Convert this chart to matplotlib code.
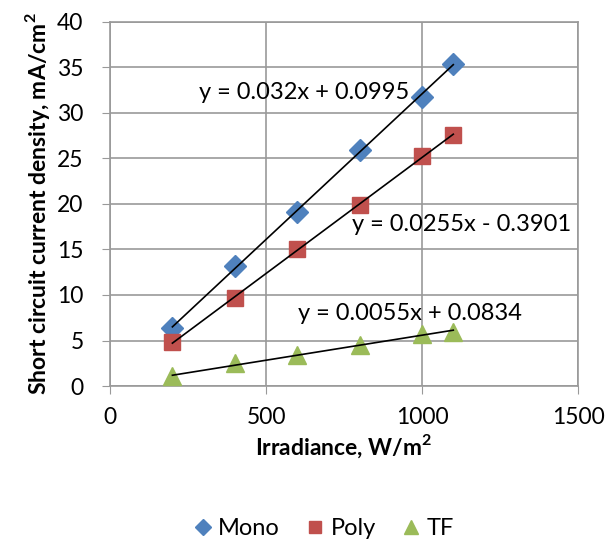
import numpy as np
import matplotlib
matplotlib.use("Agg")
import matplotlib.pyplot as plt

plt.rcParams['font.family'] = ['Lato', 'DejaVu Sans']

# ---- data
irradiance = [200, 400, 600, 800, 1000, 1100]
mono = [6.4, 13.2, 19.1, 25.9, 31.8, 35.4]
poly = [4.8, 9.7, 15.0, 19.9, 25.3, 27.6]
tf = [1.1, 2.5, 3.4, 4.5, 5.7, 5.9]

# trendline coefficients as printed
fit_mono = (0.032, 0.0995)
fit_poly = (0.0255, -0.3901)
fit_tf = (0.0055, 0.0834)
eq_mono = "y = 0.032x + 0.0995"
eq_poly = "y = 0.0255x - 0.3901"
eq_tf = "y = 0.0055x + 0.0834"

x_ticks = [0, 500, 1000, 1500]
y_ticks = [0, 5, 10, 15, 20, 25, 30, 35, 40]

# ---- figure
fig = plt.figure(figsize=(6.06, 5.47), dpi=100)
ax = fig.add_axes([0.1815, 0.2943, 0.7725, 0.6657])

ax.plot(irradiance, mono, 'D', color='#4F81BD', ms=11, label='Mono', zorder=3)
ax.plot(irradiance, poly, 's', color='#C0504D', ms=12, label='Poly', zorder=3)
ax.plot(irradiance, tf, '^', color='#9BBB59', ms=13, label='TF', zorder=3)

xx = np.array([irradiance[0], irradiance[-1]])
for m, b in (fit_mono, fit_poly, fit_tf):
    ax.plot(xx, m * xx + b, color='black', lw=1.2, zorder=4)

ax.text(285, 32.2, eq_mono, fontsize=17, ha='left', va='center', zorder=5)
ax.text(776, 17.7, eq_poly, fontsize=17, ha='left', va='center', zorder=5)
ax.text(603, 8.0, eq_tf, fontsize=17, ha='left', va='center', zorder=5)

ax.set_xlim(0, 1500)
ax.set_ylim(0, 40)
ax.set_xticks(x_ticks)
ax.set_yticks(y_ticks)
ax.grid(True, color='#999999', lw=1.2)
ax.set_axisbelow(True)
for s in ax.spines.values():
    s.set_color('#999999')
    s.set_linewidth(1.2)
ax.tick_params(direction='out', length=6, color='#999999', labelsize=16.5, pad=9)
ax.tick_params(axis='y', pad=13)

ax.set_xlabel('Irradiance, W/m$^\\mathregular{2}$', fontsize=16.5, fontweight='bold', labelpad=3)
ax.set_ylabel('Short circuit current density, mA/cm$^\\mathregular{2}$', fontsize=16.5, fontweight='bold', labelpad=4)

fig.legend(loc='lower center', bbox_to_anchor=(0.53, -0.025), ncol=3, frameon=False,
           fontsize=17, handletextpad=0.05, columnspacing=0.9, markerscale=0.75,
           handlelength=1.2)

fig.savefig('out.png', dpi=100)
